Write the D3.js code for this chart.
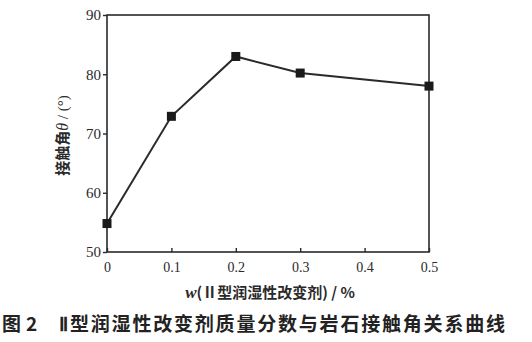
<!DOCTYPE html>
<html><head><meta charset="utf-8">
<script src="https://cdn.jsdelivr.net/npm/d3@7"></script>
<style>body{margin:0;background:#fff}svg{display:block}</style>
</head><body>
<script>
const xValues = [0, 0.1, 0.2, 0.3, 0.5];
const angles = [54.8, 72.9, 83.0, 80.2, 78.0];
const xTicks = [0, 0.1, 0.2, 0.3, 0.4, 0.5];
const yTicks = [50, 60, 70, 80, 90];
const yTitleParts = ["接触角", "θ", " / (°)"];
const xTitleParts = ["w", "(Ⅱ型润湿性改变剂) / %"];
const captionNum = ["图", "2"];
const captionRoman = "Ⅱ";
const captionText = "型润湿性改变剂质量分数与岩石接触角关系曲线";

const W = 532, H = 342;
const m = {l:107, t:15, r:W-429, b:H-252};
const svg = d3.select("body").append("svg").attr("width", W).attr("height", H);
const x = d3.scaleLinear().domain([0, 0.5]).range([m.l, W-m.r]);
const y = d3.scaleLinear().domain([50, 90]).range([H-m.b, m.t]);
const ink = "#2a2a2a";
const serif = "'Liberation Serif','Times New Roman',serif";
const cjk = "'Noto Sans CJK SC',sans-serif";

svg.append("rect").attr("x", x(0)).attr("y", y(90)).attr("width", x(0.5)-x(0)).attr("height", y(50)-y(90))
  .attr("fill","none").attr("stroke", ink).attr("stroke-width", 1.6);

const xa = svg.append("g").attr("transform", `translate(0,${y(50)})`)
  .call(d3.axisBottom(x).tickValues(xTicks).tickFormat(d => d===0 ? "0" : d3.format(".1f")(d)).tickSizeInner(-4).tickSizeOuter(0).tickPadding(10));
xa.select(".domain").remove();
xa.selectAll("line").attr("stroke", ink).attr("stroke-width", 1.4);
xa.selectAll("text").attr("font-family", serif).attr("font-size", 14).attr("fill", ink);

const ya = svg.append("g").attr("transform", `translate(${x(0)},0)`)
  .call(d3.axisLeft(y).tickValues(yTicks).tickSizeInner(4).tickSizeOuter(0).tickPadding(2));
ya.select(".domain").remove();
ya.selectAll("line").attr("stroke", ink).attr("stroke-width", 1.4);
ya.selectAll("text").attr("font-family", serif).attr("font-size", 15).attr("fill", ink);

const pts = xValues.map((v,i)=>[v, angles[i]]);
svg.append("path").datum(pts)
  .attr("d", d3.line().x(d=>x(d[0])).y(d=>y(d[1])))
  .attr("fill","none").attr("stroke", ink).attr("stroke-width", 2);
svg.selectAll("rect.mk").data(pts).join("rect").attr("class","mk")
  .attr("x", d=>x(d[0])-4.5).attr("y", d=>y(d[1])-4.5).attr("width", 9).attr("height", 9)
  .attr("fill", "#1a1a1a");

// y title
const yt = svg.append("text").attr("transform", `translate(68,${(y(90)+y(50))/2 + 2}) rotate(-90)`)
  .attr("text-anchor","middle").attr("font-size", 15).attr("fill", ink);
yt.append("tspan").attr("font-family", cjk).attr("font-weight","bold").text(yTitleParts[0]);
yt.append("tspan").attr("font-family", serif).attr("font-style","italic").attr("font-size", 16).text(yTitleParts[1]);
yt.append("tspan").attr("font-family", serif).attr("font-size", 15).text(yTitleParts[2]);

// x title
const xt = svg.append("text").attr("x", 270).attr("y", 298).attr("text-anchor","middle").attr("fill", ink);
xt.append("tspan").attr("font-family", serif).attr("font-style","italic").attr("font-weight","bold").attr("font-size", 17).text(xTitleParts[0]);
xt.append("tspan").attr("font-family", cjk).attr("font-weight","bold").attr("font-size", 15).text(xTitleParts[1]);

// caption
const cap = svg.append("g").attr("fill", "#222").attr("font-weight","bold");
cap.append("text").attr("x", 2).attr("y", 331).attr("font-family", cjk).attr("font-size", 19).text(captionNum[0]);
cap.append("text").attr("x", 26).attr("y", 331).attr("font-family", cjk).attr("font-size", 19).text(captionNum[1]);
cap.append("text").attr("x", 59).attr("y", 331).attr("font-family", serif).attr("font-size", 19).text(captionRoman);
cap.append("text").attr("x", 70).attr("y", 331).attr("font-family", cjk).attr("font-size", 19)
  .attr("letter-spacing", 1.8).text(captionText);
</script>
</body></html>
